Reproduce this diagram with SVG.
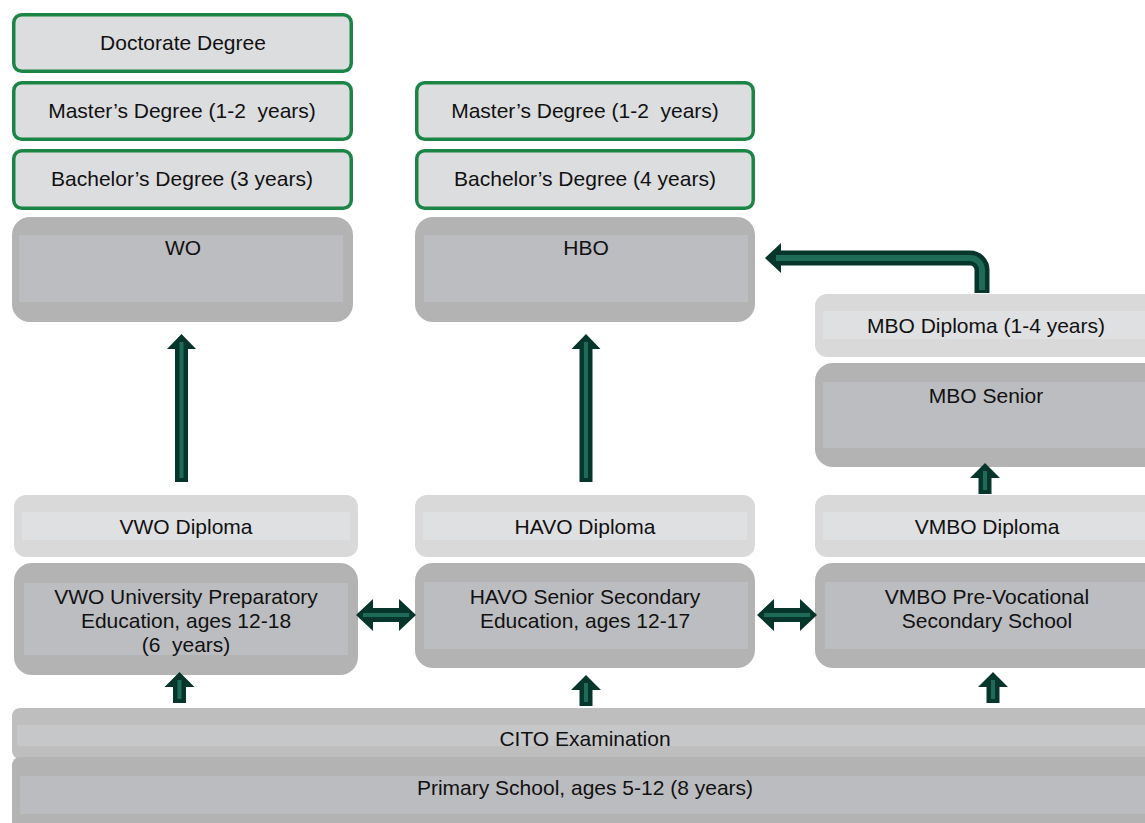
<svg xmlns="http://www.w3.org/2000/svg" width="1145" height="823" viewBox="0 0 1145 823">
<style>
text{font-family:"Liberation Sans",Arial,sans-serif;font-size:21px;fill:#111111;text-anchor:middle}
.deg{fill:#dcdddf;stroke:#1b8545;stroke-width:3.5}
.dko{fill:#b3b3b3}
.dki{fill:#bcbdc0}
.dpo{fill:#d9d9da}
.dpi{fill:#dfe0e2}
.ad{fill:#06362b}
.al{stroke:#1e6b58;stroke-width:4;fill:none}
.bd{stroke:#06362b;stroke-width:15;fill:none}
.bl{stroke:#1e6b58;stroke-width:6;fill:none}
</style>
<defs>
<g id="longUp"><polygon class="ad" points="0,0 14.5,15 6.5,15 6.5,148 -6.5,148 -6.5,15 -14.5,15"/><line class="al" x1="0" y1="8" x2="0" y2="144"/></g>
<g id="shortUp"><polygon class="ad" points="0,0 15,15 6.5,15 6.5,31 -6.5,31 -6.5,15 -15,15"/><line class="al" x1="0" y1="8" x2="0" y2="27"/></g>
<g id="dbl"><polygon class="ad" points="0,0 17,-16 17,-7 43,-7 43,-16 60,0 43,16 43,7 17,7 17,16"/><line class="al" x1="7" y1="0" x2="53" y2="0" stroke-width="5"/></g>
</defs>
<rect width="1145" height="823" fill="#ffffff"/>

<g id="doctorate"><rect class="deg" x="13.75" y="14.75" width="337.5" height="56.5" rx="8"/><text x="183" y="50">Doctorate Degree</text></g>
<g id="master-wo"><rect class="deg" x="13.75" y="82.75" width="337.5" height="56.5" rx="8"/><text x="182" y="118" xml:space="preserve">Master’s Degree (1-2  years)</text></g>
<g id="bachelor-wo"><rect class="deg" x="13.75" y="150.75" width="337.5" height="57.5" rx="8"/><text x="182" y="186">Bachelor’s Degree (3 years)</text></g>
<g id="wo"><rect class="dko" x="12" y="217" width="341" height="105" rx="18"/><rect class="dki" x="19" y="235" width="324" height="67"/><text x="183" y="255">WO</text></g>

<g id="master-hbo"><rect class="deg" x="416.75" y="82.75" width="336.5" height="56.5" rx="8"/><text x="585" y="118" xml:space="preserve">Master’s Degree (1-2  years)</text></g>
<g id="bachelor-hbo"><rect class="deg" x="416.75" y="150.75" width="336.5" height="57.5" rx="8"/><text x="585" y="186">Bachelor’s Degree (4 years)</text></g>
<g id="hbo"><rect class="dko" x="415" y="217" width="340" height="105" rx="18"/><rect class="dki" x="424" y="235" width="324" height="67"/><text x="586" y="255">HBO</text></g>

<g id="mbo-diploma"><rect class="dpo" x="815" y="294" width="350" height="63" rx="12"/><rect class="dpi" x="823" y="311" width="335" height="28"/><text x="986" y="333">MBO Diploma (1-4 years)</text></g>
<g id="mbo-senior"><rect class="dko" x="815" y="363" width="350" height="104" rx="18"/><rect class="dki" x="823" y="382" width="335" height="66"/><text x="986" y="403">MBO Senior</text></g>

<g id="vwo-diploma"><rect class="dpo" x="14" y="495" width="344" height="62" rx="12"/><rect class="dpi" x="22" y="512" width="328" height="28"/><text x="186" y="534">VWO Diploma</text></g>
<g id="havo-diploma"><rect class="dpo" x="415" y="495" width="340" height="62" rx="12"/><rect class="dpi" x="423" y="512" width="324" height="28"/><text x="585" y="534">HAVO Diploma</text></g>
<g id="vmbo-diploma"><rect class="dpo" x="815" y="495" width="350" height="62" rx="12"/><rect class="dpi" x="823" y="512" width="335" height="28"/><text x="987" y="534">VMBO Diploma</text></g>

<g id="vwo"><rect class="dko" x="14" y="563" width="344" height="112" rx="18"/><rect class="dki" x="24" y="583" width="324" height="72"/><text x="186" y="604">VWO University Preparatory</text><text x="186" y="628">Education, ages 12-18</text><text x="186" y="652" xml:space="preserve">(6  years)</text></g>
<g id="havo"><rect class="dko" x="415" y="563" width="340" height="105" rx="18"/><rect class="dki" x="424" y="582" width="324" height="67"/><text x="585" y="604">HAVO Senior Secondary</text><text x="585" y="628">Education, ages 12-17</text></g>
<g id="vmbo"><rect class="dko" x="815" y="563" width="350" height="105" rx="18"/><rect class="dki" x="825" y="582" width="335" height="67"/><text x="987" y="604">VMBO Pre-Vocational</text><text x="987" y="628">Secondary School</text></g>

<g id="cito"><rect x="12" y="708" width="1160" height="51" rx="8" fill="#bebebe"/><rect x="17" y="725" width="1150" height="21" fill="#c6c7c9"/><text x="585" y="746">CITO Examination</text></g>
<g id="primary"><rect x="12" y="757" width="1160" height="80" rx="8" fill="#b3b3b3"/><rect x="20" y="776" width="1150" height="38" fill="#bbbcbf"/><text x="585" y="795">Primary School, ages 5-12 (8 years)</text></g>

<g id="connectors">
<use href="#longUp" x="181.5" y="334"/>
<use href="#longUp" x="586" y="334"/>
<use href="#shortUp" x="985" y="463"/>
<use href="#shortUp" x="179.5" y="672"/>
<use href="#shortUp" x="586" y="675"/>
<use href="#shortUp" x="993" y="672"/>
<use href="#dbl" x="356" y="615"/>
<use href="#dbl" x="757" y="615"/>
<path class="bd" d="M 982 293 L 982 270 A 12 12 0 0 0 970 258 L 778 258"/>
<polygon class="ad" points="765,258 781,243 781,273"/>
<path class="bl" d="M 982 290 L 982 270 A 12 12 0 0 0 970 258 L 776 258"/>
</g>
</svg>
